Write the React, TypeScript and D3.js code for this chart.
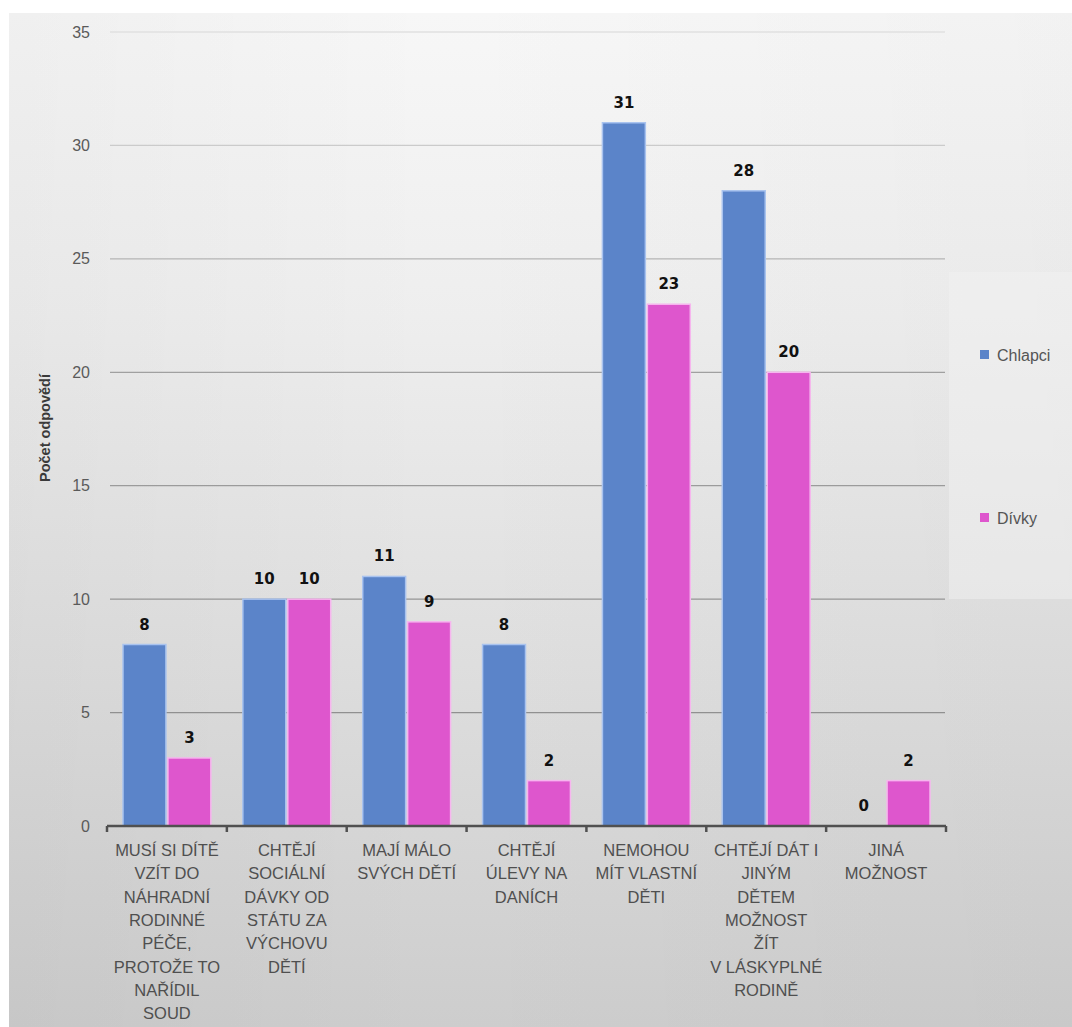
import React from "react";
import * as d3 from "d3";

const categories: string[][] = [
  ["MUSÍ SI DÍTĚ", "VZÍT DO", "NÁHRADNÍ", "RODINNÉ", "PÉČE,", "PROTOŽE TO", "NAŘÍDIL", "SOUD"],
  ["CHTĚJÍ", "SOCIÁLNÍ", "DÁVKY OD", "STÁTU ZA", "VÝCHOVU", "DĚTÍ"],
  ["MAJÍ MÁLO", "SVÝCH DĚTÍ"],
  ["CHTĚJÍ", "ÚLEVY NA", "DANÍCH"],
  ["NEMOHOU", "MÍT VLASTNÍ", "DĚTI"],
  ["CHTĚJÍ DÁT I", "JINÝM", "DĚTEM", "MOŽNOST", "ŽÍT", "V LÁSKYPLNÉ", "RODINĚ"],
  ["JINÁ", "MOŽNOST"],
];
const seriesNames = ["Chlapci", "Dívky"];
const chlapci = [8, 10, 11, 8, 31, 28, 0];
const divky = [3, 10, 9, 2, 23, 20, 2];
const yTicks = [0, 5, 10, 15, 20, 25, 30, 35];
const yTitle = "Počet odpovědí";

const colors = ["#5b84c9", "#de56cd"];
const strokeColors = ["#a9c3ef", "#f6b6ee"];

export default function App() {
  const W = 1072;
  const H = 1027;
  const x0 = 107;
  const x1end = 946;
  const yTop = 32;
  const yBottom = 826;

  const idx = categories.map((_, i) => String(i));
  const x = d3.scaleBand<string>().domain(idx).range([x0, x1end]).paddingInner(0).paddingOuter(0);
  const step = x.step();
  const xs = d3.scaleBand<string>().domain(seriesNames).range([16, step - 16]).paddingInner(0.045);
  const y = d3.scaleLinear().domain([0, 35]).range([yBottom, yTop]);
  const gridColor = d3.scaleLinear<string>().domain([0, 20, 35]).range(["#8a8a8a", "#a0a0a0", "#e0e0e0"]);

  const series = [chlapci, divky];
  const font = "'Liberation Sans', Arial, sans-serif";
  const boldFont = "'DejaVu Sans', Verdana, sans-serif";

  return (
    <svg width={W} height={H} style={{ position: "absolute", left: 0, top: 0, display: "block" }}>
      <defs>
        <linearGradient id="bg" x1="0" y1="0" x2="0" y2="1">
          <stop offset="0" stopColor="#f7f7f7" />
          <stop offset="0.3" stopColor="#eeeeee" />
          <stop offset="0.6" stopColor="#e0e0e0" />
          <stop offset="1" stopColor="#cdcdcd" />
        </linearGradient>
        <linearGradient id="bgh" x1="0" y1="0" x2="1" y2="0">
          <stop offset="0" stopColor="#000" stopOpacity="0.03" />
          <stop offset="0.4" stopColor="#000" stopOpacity="0" />
          <stop offset="1" stopColor="#000" stopOpacity="0.02" />
        </linearGradient>
      </defs>
      <rect x={0} y={0} width={W} height={H} fill="#ffffff" />
      <rect x={9} y={13} width={W - 9} height={H - 13} fill="url(#bg)" />
      <rect x={9} y={13} width={W - 9} height={H - 13} fill="url(#bgh)" />
      {/* legend box */}
      <rect x={949} y={272} width={W - 949} height={327} fill="#f2f2f2" opacity={0.5} />

      {/* gridlines */}
      {yTicks.filter((t) => t > 0).map((t) => (
        <line key={t} x1={110} x2={945} y1={y(t)} y2={y(t)} stroke={gridColor(t)} strokeWidth={1.3} />
      ))}

      {/* y tick labels */}
      {yTicks.map((t) => (
        <text key={t} x={90} y={y(t)} dy="0.35em" textAnchor="end" fontFamily={font} fontSize={16} fill="#5a5a5a">
          {t}
        </text>
      ))}

      {/* y title */}
      <text
        transform={`translate(50,${428}) rotate(-90)`}
        textAnchor="middle"
        fontFamily={font}
        fontWeight="bold"
        fontSize={14.5}
        fill="#3a3a3a"
      >
        {yTitle}
      </text>

      {/* bars */}
      {idx.map((c, i) => (
        <g key={c} transform={`translate(${x(c)},0)`}>
          {seriesNames.map((s, si) => {
            const v = series[si][i];
            const bx = xs(s)!;
            const bw = xs.bandwidth();
            return (
              <g key={s}>
                {v > 0 && (
                  <rect
                    x={bx}
                    y={y(v)}
                    width={bw}
                    height={yBottom - y(v)}
                    fill={colors[si]}
                    stroke={strokeColors[si]}
                    strokeWidth={1.5}
                  />
                )}
                <text
                  x={bx + bw / 2}
                  y={y(v) - 15}
                  textAnchor="middle"
                  fontFamily={boldFont}
                  fontWeight="bold"
                  fontSize={15}
                  fill="#111"
                >
                  {v}
                </text>
              </g>
            );
          })}
        </g>
      ))}

      {/* x axis */}
      <line x1={x0} x2={x1end} y1={yBottom} y2={yBottom} stroke="#505050" strokeWidth={2.5} />
      {d3.range(categories.length + 1).map((k) => (
        <line key={k} x1={x0 + k * step} x2={x0 + k * step} y1={yBottom} y2={yBottom + 6} stroke="#505050" strokeWidth={2.5} />
      ))}

      {/* x labels */}
      {idx.map((c, i) => (
        <text
          key={c}
          x={x(c)! + step / 2}
          y={856}
          textAnchor="middle"
          fontFamily={font}
          fontSize={16.5}
          fill="#4f4f4f"
        >
          {categories[i].map((ln, li) => (
            <tspan key={li} x={x(c)! + step / 2} dy={li === 0 ? 0 : 23.3}>
              {ln}
            </tspan>
          ))}
        </text>
      ))}

      {/* legend */}
      {seriesNames.map((s, si) => {
        const ly = si === 0 ? 355 : 518;
        return (
          <g key={s}>
            <rect x={980} y={ly - 5} width={9} height={9} fill={colors[si]} />
            <text x={997} y={ly} dy="0.35em" fontFamily={font} fontSize={16} fill="#555">
              {s}
            </text>
          </g>
        );
      })}
    </svg>
  );
}
